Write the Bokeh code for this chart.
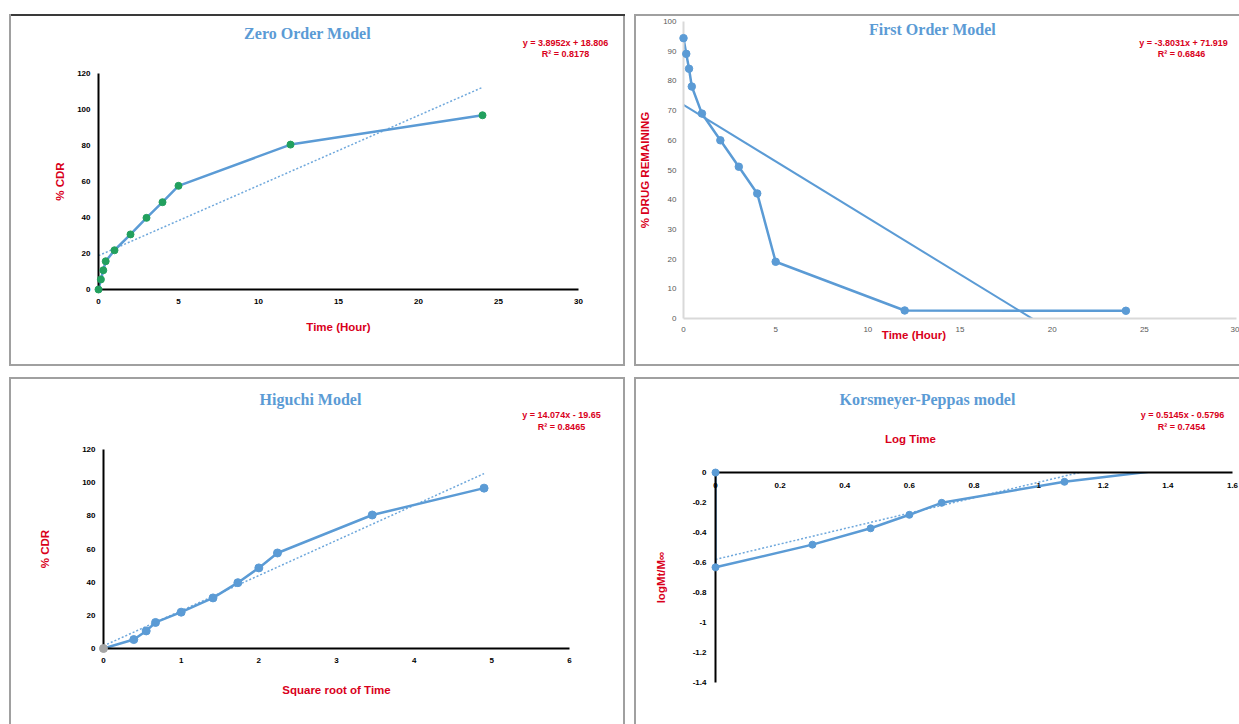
import numpy as np
from bokeh.plotting import figure
from bokeh.models import Label, Range1d, FixedTicker, NumeralTickFormatter
from bokeh.embed import file_html
from bokeh.resources import INLINE

# ---------------- data ----------------
time_h = [0, 0.15, 0.3, 0.45, 1, 2, 3, 4, 5, 12, 24]
cdr_pct = [0, 5.6, 10.7, 15.7, 21.8, 30.6, 39.8, 48.5, 57.6, 80.5, 96.8]
drug_remaining = [94.4, 89.1, 84.1, 78.1, 69.0, 60.0, 51.1, 42.1, 19.1, 2.7, 2.6]
sqrt_time = [0, 0.39, 0.55, 0.67, 1.0, 1.41, 1.73, 2.0, 2.24, 3.46, 4.9]
higuchi_cdr = [0, 5.4, 10.6, 15.7, 21.9, 30.5, 39.7, 48.6, 57.6, 80.5, 96.7]
log_time = [0, 0, 0.30, 0.48, 0.60, 0.70, 1.08, 1.38]
log_mt_minf = [0, -0.632, -0.481, -0.372, -0.282, -0.202, -0.062, 0.015]

# trend lines as drawn: [slope, intercept]
zero_fit = [3.8952, 18.806]
first_fit = [-3.8031, 71.919]
higuchi_fit = [21.2, 1.6]
kp_fit = [0.5145, -0.5796]

titles = ["Zero Order Model", "First Order Model", "Higuchi Model", "Korsmeyer-Peppas model"]
equations = [
    ["y = 3.8952x + 18.806", "R\u00b2 = 0.8178"],
    ["y = -3.8031x + 71.919", "R\u00b2 = 0.6846"],
    ["y = 14.074x - 19.65", "R\u00b2 = 0.8465"],
    ["y = 0.5145x - 0.5796", "R\u00b2 = 0.7454"],
]

zero_x_ticks = [0, 5, 10, 15, 20, 25, 30]
zero_y_ticks = [0, 20, 40, 60, 80, 100, 120]
first_x_ticks = [0, 5, 10, 15, 20, 25, 30]
first_y_ticks = [0, 10, 20, 30, 40, 50, 60, 70, 80, 90, 100]
higuchi_x_ticks = [0, 1, 2, 3, 4, 5, 6]
higuchi_y_ticks = [0, 20, 40, 60, 80, 100, 120]
kp_x_ticks = [0, 0.2, 0.4, 0.6, 0.8, 1.0, 1.2, 1.4, 1.6]
kp_y_ticks = [-1.4, -1.2, -1.0, -0.8, -0.6, -0.4, -0.2, 0]

# ---------------- style ----------------
BLUE = "#5B9BD5"
TREND = "#6FA8DC"
GREEN = "#22A05E"
GRAYPT = "#A5A5A5"
RED = "#D9001B"
SANS = "Liberation Sans"
SERIF = "Liberation Serif"
BORDER = "#A0A0A0"
PAGE_W, PAGE_H = 1239, 724

# panel geometry: page position (left, top), size (w, h), frame borders (l, r, t, b)
G1 = dict(pos=(9, 14), size=(616, 352), b=(89, 47, 59, 77))
G2 = dict(pos=(634, 14), size=(605, 352), b=(49, 3, 7, 48))
G3 = dict(pos=(9, 377), size=(616, 347), b=(94, 56, 72, 76))
G4 = dict(pos=(634, 377), size=(605, 347), b=(81, 7, 95, 42))


def panel_styles(g, sides, top_color=BORDER):
    parts = []
    if "l" in sides:
        parts.append(f"inset 2px 0 0 0 {BORDER}")
    if "t" in sides:
        parts.append(f"inset 0 2px 0 0 {top_color}")
    if "r" in sides:
        parts.append(f"inset -2px 0 0 0 {BORDER}")
    if "b" in sides:
        parts.append(f"inset 0 -2px 0 0 {BORDER}")
    return {"position": "absolute", "left": f"{g['pos'][0]}px", "top": f"{g['pos'][1]}px",
            "box-shadow": ", ".join(parts)}


def panel(g, xt, yt, xloc="below"):
    w, h = g["size"]
    b = g["b"]
    p = figure(width=w, height=h, x_range=Range1d(xt[0], xt[-1]), y_range=Range1d(yt[0], yt[-1]),
               min_border_left=b[0], min_border_right=b[1], min_border_top=b[2], min_border_bottom=b[3],
               x_axis_location=xloc, toolbar_location=None, output_backend="svg")
    p.title.visible = False
    p.background_fill_color = None
    p.border_fill_color = None
    p.outline_line_color = None
    p.xgrid.visible = False
    p.ygrid.visible = False
    p.xaxis.ticker = FixedTicker(ticks=xt)
    p.yaxis.ticker = FixedTicker(ticks=yt)
    return p


def style_axes(p, line_color, line_width, tick_color, tick_style, xs, ys, xls, yls):
    for ax in list(p.xaxis) + list(p.yaxis):
        ax.axis_line_color = line_color
        ax.axis_line_width = line_width
        ax.major_tick_line_color = None
        ax.minor_tick_line_color = None
        ax.major_tick_out = 0
        ax.major_tick_in = 0
        ax.major_label_text_font = SANS
        ax.major_label_text_font_size = "8px"
        ax.major_label_text_font_style = tick_style
        ax.major_label_text_color = tick_color
        ax.axis_label_text_font = SANS
        ax.axis_label_text_font_style = "bold"
        ax.axis_label_text_font_size = "11.5px"
        ax.axis_label_text_color = RED
    p.xaxis.major_label_standoff = xs
    p.yaxis.major_label_standoff = ys
    p.xaxis.axis_label_standoff = xls
    p.yaxis.axis_label_standoff = yls


def trend(p, xs, fit, dashed=True):
    xf = np.array([min(xs), max(xs)], dtype=float)
    yf = fit[0] * xf + fit[1]
    if dashed:
        p.line(xf, yf, line_color=TREND, line_width=1.5, line_dash="2 2")
    else:
        p.line(xf, yf, line_color=BLUE, line_width=2)

# ---------------- text layer (chart titles, trend-line equations, free axis titles) ----------------
txt = figure(width=PAGE_W, height=PAGE_H, x_range=Range1d(0, PAGE_W), y_range=Range1d(PAGE_H, 0),
             min_border=0, x_axis_type=None, y_axis_type=None,
             toolbar_location=None, output_backend="svg")
txt.title.visible = False
txt.background_fill_color = None
txt.border_fill_color = None
txt.outline_line_color = None
txt.grid.visible = False
txt.styles = {"position": "absolute", "left": "0px", "top": "0px", "z-index": "5",
              "pointer-events": "none"}


def put(text, X, Y, size, color, font, style="normal"):
    txt.add_layout(Label(x=X, y=Y, text=text, text_align="center", text_baseline="middle",
                         text_font=font, text_font_size=f"{size}px", text_font_style=style,
                         text_color=color))


def header(title, eq, tpos, e1, e2):
    put(title, tpos[0], tpos[1], 16, BLUE, SERIF, "bold")
    put(eq[0], e1[0], e1[1], 9, RED, SANS, "bold")
    put(eq[1], e2[0], e2[1], 9, RED, SANS, "bold")

# ---------------- Zero order ----------------
p1 = panel(G1, zero_x_ticks, zero_y_ticks)
style_axes(p1, "black", 2, "black", "bold", 9, 8, 14, 8)
p1.xaxis.axis_label = "Time (Hour)"
p1.yaxis.axis_label = "% CDR"
trend(p1, time_h, zero_fit)
p1.line(time_h, cdr_pct, line_color=BLUE, line_width=2.5)
r = p1.scatter(time_h, cdr_pct, size=7, fill_color=GREEN, line_color=GREEN)
r.level = "overlay"
header(titles[0], equations[0], (307, 33), (565, 42.7), (565, 53.3))
p1.styles = panel_styles(G1, "ltrb", "#3A3A3A")

# ---------------- First order ----------------
p2 = panel(G2, first_x_ticks, first_y_ticks)
style_axes(p2, "#D9D9D9", 2, "#595959", "normal", 8, 7, 10, 9)
p2.yaxis.axis_label = "% DRUG REMAINING"
trend(p2, time_h, first_fit, dashed=False)
p2.line(time_h, drug_remaining, line_color=BLUE, line_width=2.5)
r = p2.scatter(time_h, drug_remaining, size=7.5, fill_color=BLUE, line_color=BLUE)
r.level = "overlay"
header(titles[1], equations[1], (932, 29.3), (1183, 42.7), (1181, 53.3))
put("Time (Hour)", 913.5, 334, 11.5, RED, SANS, "bold")
p2.styles = panel_styles(G2, "ltb")

# ---------------- Higuchi ----------------
p3 = panel(G3, higuchi_x_ticks, higuchi_y_ticks)
style_axes(p3, "black", 2, "black", "bold", 9, 8, 18, 28)
p3.xaxis.axis_label = "Square root of Time"
p3.yaxis.axis_label = "% CDR"
trend(p3, sqrt_time, higuchi_fit)
p3.line(sqrt_time, higuchi_cdr, line_color=BLUE, line_width=2.5)
r = p3.scatter(sqrt_time[1:], higuchi_cdr[1:], size=8, fill_color=BLUE, line_color=BLUE)
r.level = "overlay"
r0 = p3.scatter(sqrt_time[:1], higuchi_cdr[:1], size=8, fill_color=GRAYPT, line_color=GRAYPT)
r0.level = "overlay"
header(titles[2], equations[2], (310, 399), (561, 414.3), (561, 426))
p3.styles = panel_styles(G3, "ltr")

# ---------------- Korsmeyer-Peppas ----------------
p4 = panel(G4, kp_x_ticks, kp_y_ticks, xloc="above")
style_axes(p4, "black", 2, "black", "bold", -15, 9, 0, 23)
p4.xaxis.formatter = NumeralTickFormatter(format="0.[0]")
p4.yaxis.formatter = NumeralTickFormatter(format="0.[0]")
p4.yaxis.axis_label = "logMt/M\u221e"
trend(p4, log_time, kp_fit)
p4.line(log_time, log_mt_minf, line_color=BLUE, line_width=2.5)
lt = np.array(log_time)
ly = np.array(log_mt_minf)
inside = ly <= kp_y_ticks[-1]
r = p4.scatter(lt[inside], ly[inside], size=7, fill_color=BLUE, line_color=BLUE)
r.level = "overlay"
header(titles[3], equations[3], (927, 399), (1182, 414.3), (1181, 426))
put("Log Time", 910, 438.3, 11.5, RED, SANS, "bold")
p4.styles = panel_styles(G4, "lt")

open("out.html", "w").write(file_html([p1, p2, p3, p4, txt], INLINE, title="Release kinetics models"))
